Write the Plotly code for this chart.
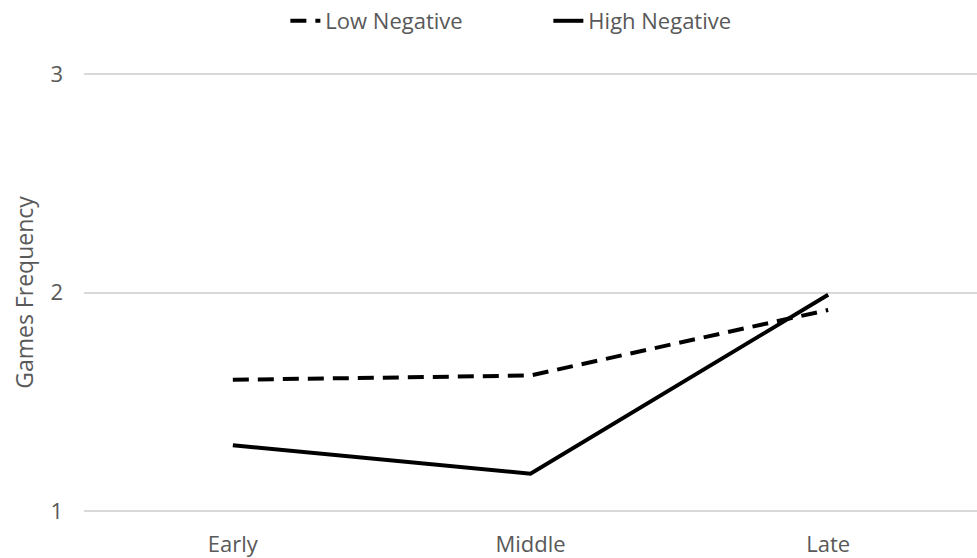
import plotly.graph_objects as go

categories = ["Early", "Middle", "Late"]
low_negative = [1.60, 1.62, 1.92]
high_negative = [1.30, 1.17, 1.99]
y_ticks = [1, 2, 3]

fig = go.Figure()
fig.add_trace(go.Scatter(x=categories, y=low_negative, name="Low Negative", mode="lines",
                         line=dict(color="black", width=4, dash="16px,9px")))
fig.add_trace(go.Scatter(x=categories, y=high_negative, name="High Negative", mode="lines",
                         line=dict(color="black", width=4)))

font_family = "Open Sans, Liberation Sans, sans-serif"
fig.update_layout(
    width=977, height=558,
    margin=dict(l=84, r=0, t=72, b=45, autoexpand=False),
    paper_bgcolor="white", plot_bgcolor="white",
    font=dict(family=font_family, color="#595959", size=22),
    showlegend=True,
    legend=dict(orientation="h", x=0.52, xanchor="center", xref="paper",
                y=1.0, yanchor="top", yref="container", entrywidth=218,
                font=dict(size=22, color="#595959"), traceorder="normal"),
    xaxis=dict(type="category", range=[-0.5, 2.5], showgrid=False, showline=False,
               zeroline=False, ticks="", ticklabelstandoff=16, automargin=False,
               tickfont=dict(size=22, color="#595959")),
    yaxis=dict(range=[0.99, 3.01], tickvals=y_ticks, showgrid=True, gridcolor="#d9d9d9", gridwidth=1.5,
               zeroline=False, showline=False, ticks="", ticklabelstandoff=20, automargin=False,
               tickfont=dict(size=22, color="#595959"),
               title=dict(text="Games Frequency", font=dict(size=23, color="#595959"), standoff=10)),
)
fig.write_html("out.html", config={"displayModeBar": False},
               post_script="document.body.style.margin='0';document.body.style.overflow='hidden';")
